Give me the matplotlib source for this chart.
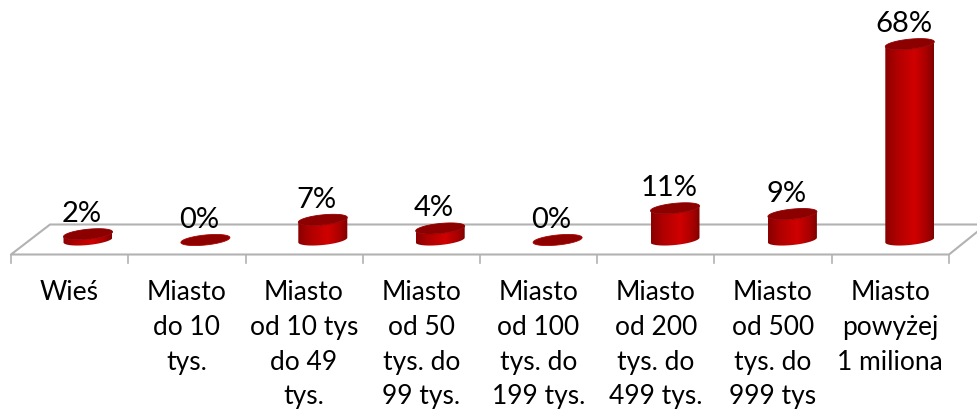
import numpy as np
import matplotlib
matplotlib.use("Agg")
import matplotlib.pyplot as plt
from matplotlib.path import Path
from matplotlib.patches import PathPatch
from matplotlib.colors import LinearSegmentedColormap

categories = ["Wieś", "Miasto\ndo 10\ntys.", "Miasto\nod 10 tys\ndo 49\ntys.",
              "Miasto\nod 50\ntys. do\n99 tys.", "Miasto\nod 100\ntys. do\n199 tys.",
              "Miasto\nod 200\ntys. do\n499 tys.", "Miasto\nod 500\ntys. do\n999 tys",
              "Miasto\npowyżej\n1 miliona"]
values = [2, 0, 7, 4, 0, 11, 9, 68]
labels = ["2%", "0%", "7%", "4%", "0%", "11%", "9%", "68%"]

W, H = 977, 410
PX_X = 117.4      # pixels per category
PX_Y = 2.88       # pixels per percent
X0, Y0 = 88, 241  # pixel position of category 0, value 0

fig = plt.figure(figsize=(W / 100, H / 100), dpi=100)
ax = fig.add_axes([0, 0, 1, 1])
ax.set_xlim(-X0 / PX_X, (W - X0) / PX_X)
ax.set_ylim(-(H - Y0) / PX_Y, Y0 / PX_Y)
ax.axis("off")

def dx(px):
    return (px - X0) / PX_X

def dy(py):
    return (Y0 - py) / PX_Y

# floor and ticks
GRID = "#b2b2b2"
floor_x = [977, 50, 11, 949, 977]
floor_y = [225.5, 225.5, 255.5, 255.5, 233]
ax.plot([dx(p) for p in floor_x], [dy(p) for p in floor_y], color=GRID, lw=1.5, zorder=1)
for i in range(9):
    tx = dx(11 + 117.25 * i)
    ax.plot([tx, tx], [dy(255.5), dy(264)], color=GRID, lw=1.2, zorder=1)

cmap = LinearSegmentedColormap.from_list(
    "cyl", [(0, "#8a0000"), (0.25, "#b00000"), (0.6, "#d00000"), (0.85, "#a80000"), (1, "#800000")])
grad = np.linspace(0, 1, 128).reshape(1, -1)

A = 24.5 / PX_X    # half width
B = 5.0 / PX_Y     # half height of the ellipse
S = 2.4 / PX_Y     # tilt, rise at the right edge
t = np.linspace(0, 2 * np.pi, 121)

for i, v in enumerate(values):
    ex = i + A * np.cos(t)
    off = B * np.sin(t) + S * np.cos(t)
    if v > 0:
        tt = np.linspace(np.pi, 2 * np.pi, 60)
        bx = i + A * np.cos(tt)
        by = B * np.sin(tt) + S * np.cos(tt)
        sx = np.r_[bx, bx[::-1]]
        sy = np.r_[by, by[::-1] + v]
        im = ax.imshow(grad, extent=[i - A, i + A, -3, v + 3], aspect="auto",
                       cmap=cmap, zorder=3, interpolation="bilinear")
        im.set_clip_path(PathPatch(Path(np.c_[sx, sy]), transform=ax.transData))
    ax.fill(ex, v + off, color="#8c0000", lw=0.6, ec="#b00000" if v == 0 else "#900000", zorder=4)
    ax.text(i - 6 / PX_X, v + 21 / PX_Y, labels[i], ha="center", va="center",
            fontsize=21, family="Lato", color="black", zorder=5)

ax.set_xlim(-X0 / PX_X, (W - X0) / PX_X)
ax.set_ylim(-(H - Y0) / PX_Y, Y0 / PX_Y)

for i, c in enumerate(categories):
    ax.text(dx(69.5 + 117.25 * i), dy(280), c, ha="center", va="top", fontsize=19,
            family="Lato", color="black", linespacing=1.49, zorder=5)

fig.savefig("out.png", dpi=100)
